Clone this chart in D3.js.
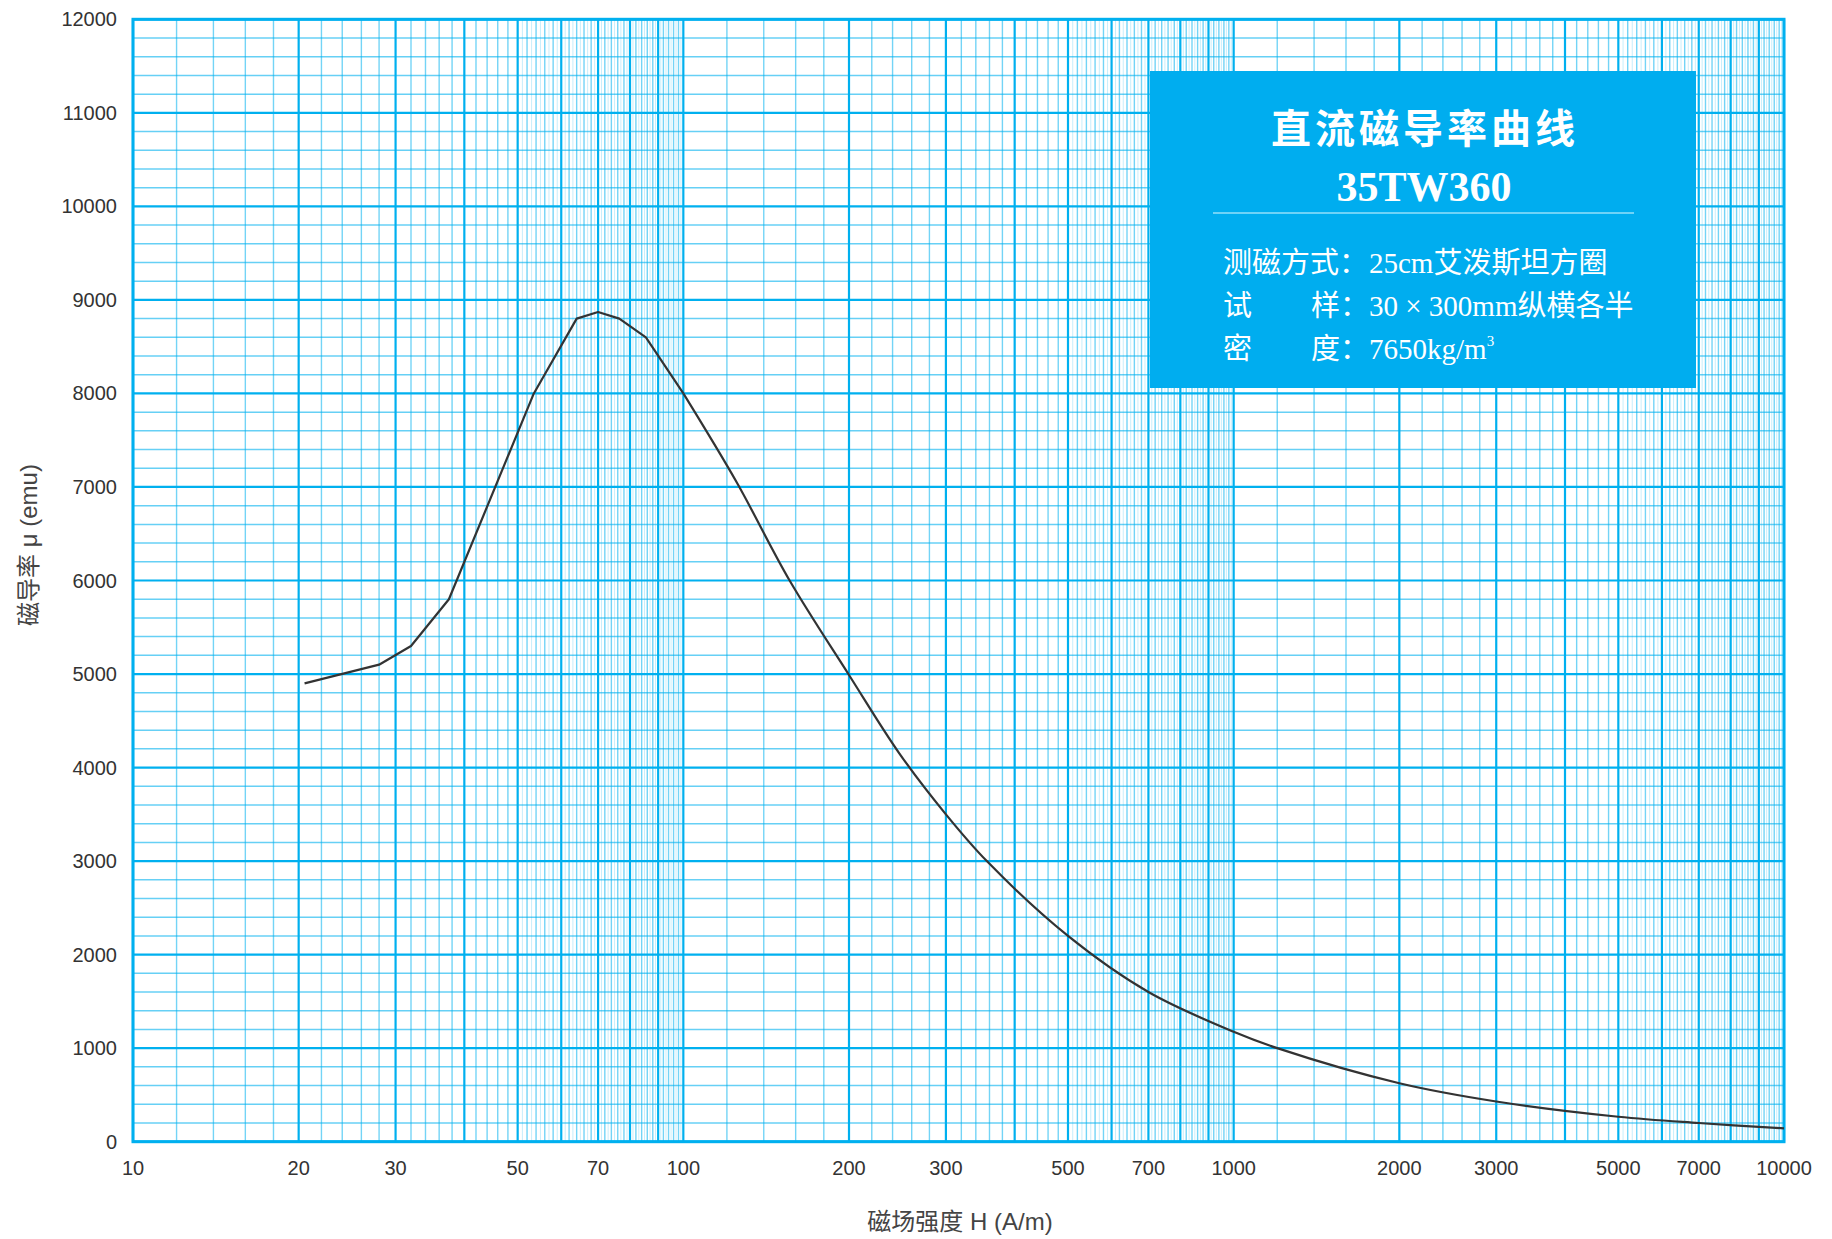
<!DOCTYPE html>
<html><head><meta charset="utf-8">
<script src="https://cdn.jsdelivr.net/npm/d3@7"></script>
<style>html,body{margin:0;padding:0;background:#fff;}svg{display:block;}</style>
</head><body>
<svg id="chart" width="1832" height="1239"></svg>
<script>
// ---- data ----
const fieldH = [20.5, 28, 32, 37.5, 53.5, 64, 70, 76.5, 85.5, 100, 125, 156, 200, 247, 300, 356, 500, 700, 1000, 1200, 2000, 3000, 5000, 7000, 10000];
const permeability = [4900, 5100, 5300, 5800, 8000, 8800, 8870, 8800, 8600, 8000, 7050, 6000, 4990, 4150, 3500, 3000, 2200, 1600, 1175, 1000, 625, 430, 267, 200, 143];
const xTickLabels = [10, 20, 30, 50, 70, 100, 200, 300, 500, 700, 1000, 2000, 3000, 5000, 7000, 10000];
const yTickLabels = [0, 1000, 2000, 3000, 4000, 5000, 6000, 7000, 8000, 9000, 10000, 11000, 12000];
const decades = [10, 100, 1000];
const title = "直流磁导率曲线";
const model = "35TW360";
const infoLabels = [["测磁方式："], ["试", "样："], ["密", "度："]];
const infoValues = ["25cm艾泼斯坦方圈", "30 × 300mm纵横各半", "7650kg/m"];

// ---- layout ----
const L = 133, R = 1784, T = 19.3, B = 1141.7;
const blue = "#00b0ef";
const svg = d3.select("#chart");
const x = d3.scaleLog().domain([10, 10000]).range([L, R]);
const y = d3.scaleLinear().domain([0, 12000]).range([B, T]);

// grid values
const majorX = [];
const minorX = [];
decades.forEach(d => {
  for (let k = 1; k <= 9; k++) {
    majorX.push(k * d);
    const step = k < 5 ? 0.2 : 0.1;
    const n = Math.round(1 / step);
    for (let j = 1; j < n; j++) minorX.push({v: (k + step * j) * d, light: step === 0.1 && j % 2 === 1});
  }
});
majorX.push(10000);
const majorY = d3.range(0, 12001, 1000);
const minorY = d3.range(200, 12000, 200).filter(v => v % 1000 !== 0);

const g = svg.append("g");
g.selectAll(".hmin").data(minorY).join("line")
  .attr("x1", L).attr("x2", R).attr("y1", d => y(d)).attr("y2", d => y(d))
  .attr("stroke", blue).attr("stroke-opacity", 0.6).attr("stroke-width", 1.5);
g.selectAll(".vmin").data(minorX).join("line")
  .attr("x1", d => x(d.v)).attr("x2", d => x(d.v)).attr("y1", T).attr("y2", B)
  .attr("stroke", blue).attr("stroke-opacity", d => d.light ? 0.22 : 0.55).attr("stroke-width", d => d.light ? 1 : 1.4);
g.selectAll(".hmaj").data(majorY).join("line")
  .attr("x1", L).attr("x2", R).attr("y1", d => y(d)).attr("y2", d => y(d))
  .attr("stroke", blue).attr("stroke-width", 2.2);
g.selectAll(".vmaj").data(majorX).join("line")
  .attr("x1", d => x(d)).attr("x2", d => x(d)).attr("y1", T).attr("y2", B)
  .attr("stroke", blue).attr("stroke-width", 2.2);
g.append("rect").attr("x", L).attr("y", T).attr("width", R - L).attr("height", B - T)
  .attr("fill", "none").attr("stroke", blue).attr("stroke-width", 3);

// tick labels
const tickFont = "'Liberation Sans', Arial, sans-serif";
svg.append("g").selectAll("text").data(yTickLabels).join("text")
  .attr("x", 117).attr("y", d => y(d) + 7).attr("text-anchor", "end")
  .attr("font-family", tickFont).attr("font-size", 20).attr("fill", "#333")
  .text(d => d);
svg.append("g").selectAll("text").data(xTickLabels).join("text")
  .attr("x", d => x(d)).attr("y", 1175).attr("text-anchor", "middle")
  .attr("font-family", tickFont).attr("font-size", 20).attr("fill", "#333")
  .text(d => d);

// axis titles
const cjkFont = "'Liberation Sans', 'Noto Sans CJK SC', sans-serif";
svg.append("text").attr("x", 960).attr("y", 1230).attr("text-anchor", "middle")
  .attr("font-family", cjkFont).attr("font-size", 24).attr("fill", "#444")
  .text("磁场强度 H (A/m)");
svg.append("text").attr("transform", "translate(37,545) rotate(-90)").attr("text-anchor", "middle")
  .attr("font-family", cjkFont).attr("font-size", 24).attr("fill", "#444")
  .text("磁导率 μ (emu)");

// curve: straight segments up to H = 100, smooth tail afterwards
const pts = fieldH.map((h, i) => [h, permeability[i]]);
const head = pts.filter(d => d[0] <= 100);
const tail = pts.filter(d => d[0] >= 100);
const lineGen = c => d3.line().x(d => x(d[0])).y(d => y(d[1])).curve(c);
svg.append("path").datum(head)
  .attr("d", lineGen(d3.curveLinear))
  .attr("fill", "none").attr("stroke", "#333").attr("stroke-width", 2.2)
  .attr("stroke-linejoin", "round");
svg.append("path").datum(tail)
  .attr("d", lineGen(d3.curveCatmullRom.alpha(0.5)))
  .attr("fill", "none").attr("stroke", "#333").attr("stroke-width", 2.2)
  .attr("stroke-linejoin", "round");

// info box
const box = svg.append("g");
box.append("rect").attr("x", 1150).attr("y", 71).attr("width", 546).attr("height", 317).attr("fill", "#00adef");
box.append("text").attr("x", 1425).attr("y", 143).attr("text-anchor", "middle")
  .attr("font-family", "'Noto Sans CJK SC', sans-serif").attr("font-weight", 700).attr("font-size", 40)
  .attr("letter-spacing", 4).attr("fill", "#fff").text(title);
box.append("text").attr("x", 1424).attr("y", 201).attr("text-anchor", "middle")
  .attr("font-family", "'Liberation Serif', 'Times New Roman', serif").attr("font-weight", 700).attr("font-size", 42)
  .attr("fill", "#fff").text(model);
box.append("line").attr("x1", 1213).attr("x2", 1634).attr("y1", 213).attr("y2", 213)
  .attr("stroke", "#6fd3f7").attr("stroke-width", 2);
const infoFont = "'Liberation Serif', 'Noto Sans CJK SC', serif";
const rowY = [273, 316, 359];
infoLabels.forEach((parts, i) => {
  box.append("text").attr("x", 1223).attr("y", rowY[i]).attr("font-family", infoFont)
    .attr("font-size", 29).attr("fill", "#fff").text(parts[0]);
  if (parts.length > 1) {
    box.append("text").attr("x", 1311).attr("y", rowY[i]).attr("font-family", infoFont)
      .attr("font-size", 29).attr("fill", "#fff").text(parts[1]);
  }
  const t = box.append("text").attr("x", 1369).attr("y", rowY[i]).attr("font-family", infoFont)
    .attr("font-size", 29).attr("fill", "#fff").text(infoValues[i]);
  if (i === 2) t.append("tspan").attr("font-size", 15).attr("dy", -13).text("3");
});
</script>
</body></html>
